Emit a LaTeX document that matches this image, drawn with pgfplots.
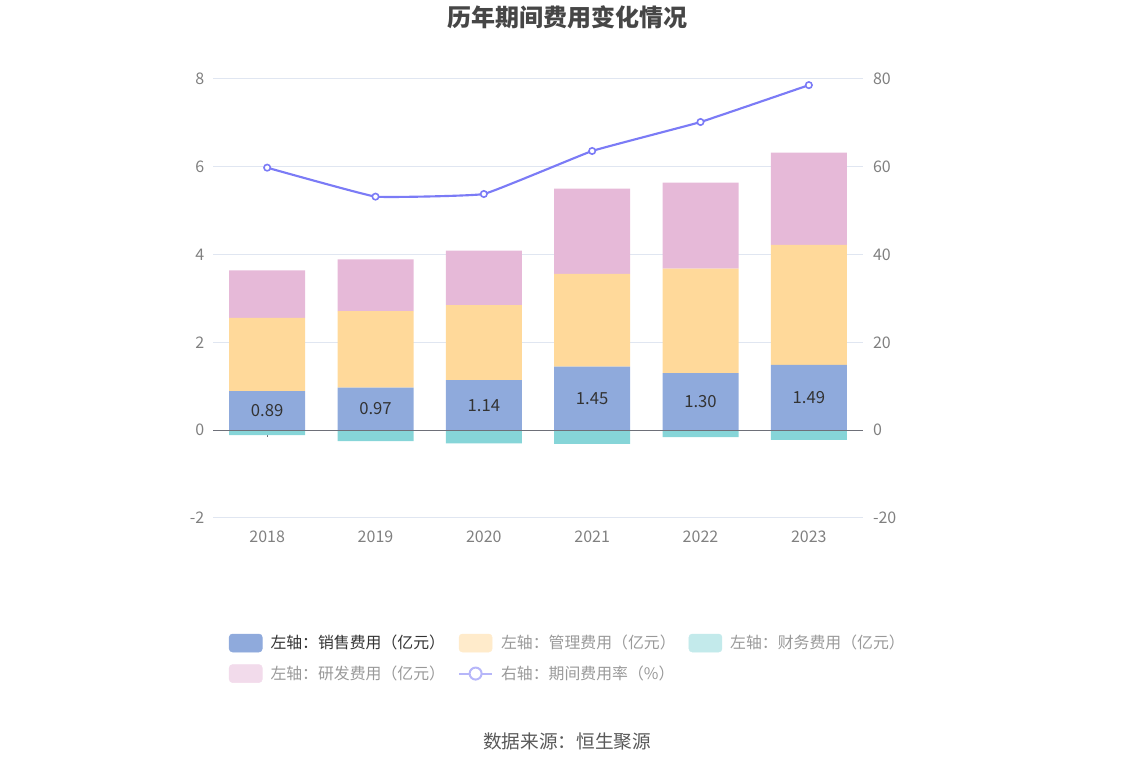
\documentclass[border=0pt]{standalone}
\usepackage{fontspec}
\setmainfont{Noto Sans CJK SC}
\usepackage{pgfplots}
\usepackage{pgfplotstable}
\pgfplotsset{compat=1.18}
\definecolor{cSales}{HTML}{8FAADC}
\definecolor{cAdmin}{HTML}{FFD99A}
\definecolor{cFin}{HTML}{86D5D8}
\definecolor{cRD}{HTML}{E6B9D8}
\definecolor{cLine}{HTML}{7B7BF6}
\definecolor{cAdminL}{HTML}{FFEBCB}
\definecolor{cFinL}{HTML}{C3EAEB}
\definecolor{cRDL}{HTML}{F2DBEB}
\definecolor{cLineL}{HTML}{B6B6F9}
\definecolor{gridc}{HTML}{E0E6F1}
\definecolor{tickc}{HTML}{808080}
\definecolor{zeroc}{HTML}{6E7079}
\definecolor{titlec}{HTML}{464646}

\pgfplotstableread{
x sales admin rd fin rate
0 0.89 1.67 1.08 -0.11 59.8
1 0.97 1.74 1.18 -0.25 53.2
2 1.14 1.71 1.24 -0.30 53.8
3 1.45 2.11 1.94 -0.31 63.6
4 1.30 2.38 1.96 -0.16 70.2
5 1.49 2.73 2.10 -0.22 78.6
}\datatable

\begin{document}
\begin{tikzpicture}
\path[use as bounding box] (-159.75pt,-186pt) rectangle (690.75pt,388.5pt);
\begin{axis}[
  at={(0pt,0pt)}, anchor=south west,
  scale only axis, width=487.5pt, height=329.25pt,
  xmin=-0.5, xmax=5.5, ymin=-2, ymax=8,
  ybar stacked, bar width=57pt,
  xtick={0,1,2,3,4,5}, xticklabels={2018,2019,2020,2021,2022,2023},
  ytick={-2,0,2,4,6,8},
  separate axis lines, axis x line*=bottom, axis y line*=left,
  axis line style={draw=none},
  major tick length=0pt,
  ymajorgrids, grid style={color=gridc, line width=0.75pt},
  tick label style={font=\fontsize{12}{14}\selectfont, text=tickc},
  /pgf/number format/assume math mode=true,
  yticklabel style={anchor=east, xshift=-3pt},
  xticklabel style={yshift=-6.5pt},
  legend style={at={(0.018,-0.257)}, anchor=north west, draw=none, fill=none,
    font=\fontsize{11.9}{13}\selectfont, column sep=6pt, row sep=9pt,
    nodes={inner sep=0pt, anchor=west}},
  legend columns=3,
  legend cell align=left,
  clip=false,
]
\draw[color=zeroc, line width=0.75pt] (axis cs:0,0) -- ([yshift=-5pt]axis cs:0,0);
\draw[color=zeroc, line width=0.75pt] (axis cs:1,0) -- ([yshift=-5pt]axis cs:1,0);
\draw[color=zeroc, line width=0.75pt] (axis cs:2,0) -- ([yshift=-5pt]axis cs:2,0);
\draw[color=zeroc, line width=0.75pt] (axis cs:3,0) -- ([yshift=-5pt]axis cs:3,0);
\draw[color=zeroc, line width=0.75pt] (axis cs:4,0) -- ([yshift=-5pt]axis cs:4,0);
\draw[color=zeroc, line width=0.75pt] (axis cs:5,0) -- ([yshift=-5pt]axis cs:5,0);
\addplot[fill=cSales, draw=none, forget plot] table[x=x, y=sales] \datatable;
\addplot[fill=cAdmin, draw=none, forget plot] table[x=x, y=admin] \datatable;
\addplot[fill=cRD, draw=none, forget plot] table[x=x, y=rd] \datatable;

\addlegendimage{legend image code/.code={\fill[cSales, rounded corners=2.5pt] (0pt,-6.75pt) rectangle (24.75pt,6.75pt);}}
\addlegendentry{\textcolor[HTML]{333333}{左轴：销售费用（亿元）}\hspace*{3.8pt}}
\addlegendimage{legend image code/.code={\fill[cAdminL, rounded corners=2.5pt] (0pt,-6.75pt) rectangle (24.75pt,6.75pt);}}
\addlegendentry{\textcolor[HTML]{999999}{左轴：管理费用（亿元）}\hspace*{3.8pt}}
\addlegendimage{legend image code/.code={\fill[cFinL, rounded corners=2.5pt] (0pt,-6.75pt) rectangle (24.75pt,6.75pt);}}
\addlegendentry{\textcolor[HTML]{999999}{左轴：财务费用（亿元）}}
\addlegendimage{legend image code/.code={\fill[cRDL, rounded corners=2.5pt] (0pt,-6.75pt) rectangle (24.75pt,6.75pt);}}
\addlegendentry{\textcolor[HTML]{999999}{左轴：研发费用（亿元）}\hspace*{3.8pt}}
\addlegendimage{legend image code/.code={\draw[cLineL, line width=1.5pt] (0pt,0pt) -- (24.75pt,0pt); \draw[cLineL, line width=1.5pt, fill=white] (12.375pt,0pt) circle (4.5pt);}}
\addlegendentry{\textcolor[HTML]{999999}{右轴：期间费用率（\%）}}
\end{axis}

\begin{axis}[
  at={(0pt,0pt)}, anchor=south west,
  scale only axis, width=487.5pt, height=329.25pt,
  xmin=-0.5, xmax=5.5, ymin=-20, ymax=80,
  axis x line=none, axis y line*=right,
  axis line style={draw=none},
  major tick length=0pt,
  ytick={-20,0,20,40,60,80},
  tick label style={font=\fontsize{12}{14}\selectfont, text=tickc},
  /pgf/number format/assume math mode=true,
  yticklabel style={anchor=west, xshift=4pt},
  clip=false,
]
\addplot[ybar, bar width=57pt, bar shift=0pt, fill=cFin, draw=none] table[x=x, y expr=\thisrow{fin}*10] \datatable;
\draw[color=zeroc, line width=0.75pt] (axis cs:-0.5,0) -- (axis cs:5.5,0);
\addplot[draw=none, mark=none, forget plot, point meta=explicit,
  nodes near coords={\pgfmathprintnumber[fixed,fixed zerofill,precision=2]{\pgfplotspointmeta}},
  every node near coord/.append style={anchor=center, font=\fontsize{12.5}{14}\selectfont, text=black!80}]
  table[x=x, y expr=\thisrow{sales}*5, meta=sales] \datatable;
\addplot[color=cLine, line width=1.6pt, smooth, tension=0.15, mark=*, mark size=2.4pt,
  mark options={fill=white, line width=1.2pt}] table[x=x, y=rate] \datatable;
\end{axis}

\node[font=\fontsize{18}{21}\selectfont\bfseries, text=titlec] at (265.5pt,375.75pt) {历年期间费用变化情况};
\node[font=\fontsize{14}{16}\selectfont, text=black!65] at (265.5pt,-167.25pt) {数据来源：恒生聚源};
\end{tikzpicture}
\end{document}
